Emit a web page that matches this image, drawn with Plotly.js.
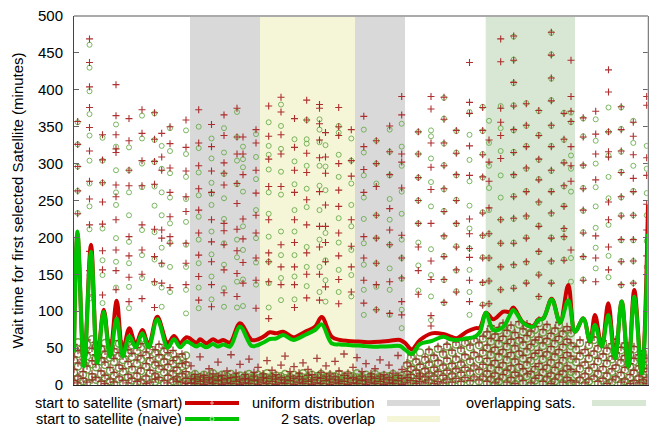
<!DOCTYPE html>
<html>
<head>
<meta charset="utf-8">
<script src="https://cdn.plot.ly/plotly-3.0.1.min.js"></script>
<style>
  html, body { margin: 0; padding: 0; background: #fff; }
  #chart { width: 649px; height: 426px; }
</style>
</head>
<body>
<div id="chart"></div>
<script>
// ---- shaded scenario bands (x positions along the track) ----
const bandNames  = ["uniform distribution", "2 sats. overlap", "overlapping sats."];
const bandStart  = [116, 186, 411.7];
const bandEnd    = [331, 281, 501];

// ---- smoothed mean wait time (minutes) ----
const lineX = [0,3.5,10,17,23.3,29.7,36,42.7,48.7,55.3,61.7,68.3,74.7,83.3,93.7,100,106,112.7,122.7,126,132.5,139,144,149.3,156,166,177.7,184.3,190,196,202,209.3,219.3,231,241,247.7,257.7,266,274.3,281,287.7,296,306,316,326,331,337.7,346,357.7,369.3,376,382.7,392.7,401,406,412,419.3,429.3,436,439.3,449.3,459.3,464.3,469.3,477.7,486,494.3,501,509.3,516,521,527.7,534.3,541,547.7,554.3,560.3,567.7,574];
const smartMean = [52,205,27,190,34,102,42,114,45,77,55,74.5,54,92.6,56.5,66.4,56.5,64.6,57.3,62,56.5,62,58.5,61,57.3,83.6,61,62,66,71.4,70,72.2,64.6,72.2,79,92,65.5,61,59.6,59,58.7,58,58.7,60,61,57,48.3,61,70,69,66,63.3,72.2,76.8,78,98,89,99.3,99.3,105,84.4,80,89,90.3,117,84.4,135.5,72.2,90.3,58.7,95,52,110.7,36,113,24.8,128.7,15.8,244];
const naiveMean = [45,208,25,180.6,30,99.3,38,90,39,66.4,51,70,51,89,50.6,62,51,58.7,52,55,51,55.5,52,55,52,79,52.8,54.2,58,62.3,63,67.8,61,67.8,74.5,82.2,56.5,55,54.2,53.5,53.3,52,52,52.5,52.8,48,42,55.5,59.6,65.5,62,61,63.3,65.5,72,98,74.5,79,95,101.6,84,79,88,90,116,84.4,115,72.2,90.3,58.7,81.3,52,94.9,36,113,24.8,119.6,15.8,205];

// ---- individual runs: sample columns along the track ----
const colX = [3.7,15.5,28.5,42,55,68,80.5,87.7,96,112,124.7,137.5,150,163,169,182,194.7,207,220.5,232.7,245.5,251.5,264.7,277.3,289.8,302.3,315.7,327.7,344.3,357,370,382.3,395.5,408.7,415,426.7,439.7,452.3,464.8,477.3,490,497,509.2,521.7,534.5,547.2,559.3,572.7];
const smartRuns = [
  [357,326,296,263,232],
  [469,437,404,376,349,317,276,252,217,181,155,122],
  [339,305,274,248,218,182,156,122],
  [407,365,339,320,315,271,255,224,183,155,129],
  [361,331,291,270,201,175,146,113],
  [373,341,304,270,217,183,150,117],
  [369,333,303,272,211,174,140,105],
  [341,309,291,210,199,165,138],
  [350,327,294,261,228,201,192,132],
  [359,322,290,255,235,192,165,136],
  [373,328,297,266,237,206,176,147,115],
  [353,323,290,261,224,194,167,136,106],
  [366,338,301,287,271,219,209,190,156,125],
  [375,336,313,273,246,211,182,151,120],
  [336,313,285,225,198,166,138],
  [346,328,291,260,230,206,172,142,104],
  [378,337,306,269,224,179,167,140,90],
  [390,370,339,313,269,190,160,136],
  [361,322,291,261,224,193,160,136,105],
  [386,359,314,288,251,217,179,150,118],
  [380,375,354,332,308,262,215,187,150,115],
  [342,309,287,244,215,193,167,133],
  [376,350,338,300,264,242,206,175,143,110],
  [346,304,283,224,188,160,126],
  [364,323,292,261,201,172,142,111],
  [331,300,269,230,199,165,136,102],
  [351,316,285,239,210,190,140,97],
  [391,366,313,302,267,203,172,145,113,95],
  [343,313,281,250,219,187,155,123],
  [391,374,328,295,265,219,168,143,94,80],
  [390,360,328,297,266,235,202,174,143,112],
  [345,314,285,250,219,187,156,126],
  [437,383,368,324,284,225,205,185,173,142,113],
  [376,345,312,282,233,203,172,139,108],
  [332,302,276,240,205,172,141,110],
  [469,438,375,356,338,307,224,192,160,129],
  [473,440,410,378,346,315,285,255,226,192,163,131],
  [381,352,323,294,262,229,199,167,138],
  [372,338,306,278,248,215,181,149,120],
  [478,447,416,385,352,323,291,262,233,199,168,138],
  [368,333,301,270,242,212,201,169],
  [440,391,371,357,323,297,276,183],
  [362,336,298,266,237,206,174,142],
  [371,340,313,278,202,172,140],
  [427,397,343,316,309,248,224,187,156],
  [377,346,317,288,255,229,197,167,136],
  [356,337,312,280,262,230,197,168,138],
  [391,379,308,284,245,210,175]
];
const naiveRuns = [
  [356,326,296,263,233],
  [461,430,398,367,338,304,273,242,211,149,117],
  [335,304,274,212,169,149,111],
  [353,323,291,261,244,199,167,132],
  [322,291,261,230,194,165,133,104],
  [365,334,300,268,210,176,145],
  [368,332,302,269,243,207,170,138],
  [324,293,261,230,186,163,132,106],
  [348,317,287,254,219,193,160,126],
  [345,313,282,252,221,190,160,129,97],
  [350,321,288,257,228,197,165,132,104],
  [334,307,274,259,244,208,177,147,116],
  [348,315,286,253,225,192,163,131,106],
  [370,336,304,272,197,173,140,105],
  [323,306,295,262,215,183,143,107],
  [340,309,279,237,199,166,136],
  [356,324,312,292,261,232,201,167,138,105],
  [380,351,320,289,258,208,176,145,115],
  [333,303,272,237,208,176,147,116],
  [359,333,327,297,266,241,187,160,134],
  [360,346,329,297,270,237,197,160,126],
  [325,296,264,206,169,142,113],
  [351,342,312,282,226,193,156,126],
  [334,304,273,244,215,183,149,120],
  [346,315,284,254,225,192,163,129,95],
  [331,300,273,230,199,165,133,102],
  [346,316,284,252,224,190,158,129,95],
  [354,323,297,262,232,197,172,144,102,77],
  [343,313,281,250,219,193,162,128],
  [345,337,307,275,242,184,149,120,88],
  [389,361,327,298,265,236,201,175,142,111],
  [344,315,284,251,218,188,155,127],
  [370,339,305,276,243,212,185,156,126,95],
  [377,344,313,281,234,202,173,138,109],
  [358,328,297,267,237,205,172,141,110],
  [378,348,317,284,254,224,192,160,129],
  [472,441,409,379,345,316,284,256,225,193,162,132],
  [382,351,324,293,263,228,200,166,139],
  [371,339,305,279,247,216,180,150,119],
  [477,448,415,386,351,324,290,263,232,200,167,139],
  [369,332,302,269,243,211,200,170],
  [369,356,311,293,262,172,140],
  [361,337,297,267,236,207,173,143],
  [360,331,300,268,242,213,186,158],
  [376,343,311,282,253,217,175,146],
  [376,347,316,289,254,230,196,168,135],
  [358,328,297,263,230,196,168,138],
  [324,293,260,230,195,160]
];

// ---- short waits (dense band near zero) ----
const lowX = [0,4,9,13,18,22,27,31,36,40,45,49,54,58,63,67,72,76,81,85,90,94,99,103,108,112,
  117,121,126,130,135,139,144,148,153,157,162,166,171,175,180,184,189,193,198,202,207,211,216,220,225,229,234,238,243,247,252,256,261,265,270,274,279,283,288,292,297,301,306,310,315,319,324,328,
  333,337,342,346,351,355,360,364,369,373,378,382,387,391,396,400,405,409,
  413,417,421,425,429,433,437,441,445,449,453,457,461,465,469,473,477,481,485,489,493,497,
  502,506,511,515,520,524,529,533,538,542,547,551,556,560,565,569,573];
const lowSmart = [
  [6,21,38,55],[12,30,47,3],[18,35,52,9],[4,26,44,61],[15,33,50,7],[10,28,41,58],[5,19,37,53],[13,31,46,2],[8,24,42,57],[17,36,49,4],
  [11,27,44,60],[6,22,39,54],[14,32,48,3],[9,25,43,59],[16,34,51,5],[7,23,40,56],[12,29,45,2],[4,20,37,52],[15,31,48,8],[10,26,41,55],
  [6,21,35,50],[13,28,44,3],[8,19,33,47],[11,24,38,5],[4,15,29,42],[9,18,31,2],
  [3,9,26],[2,8,14],[5,11,38],[1,7,13],[4,10,22],[2,8,15],[6,12,31],[1,7,13],[3,9,19],[2,10,41],
  [5,11,16],[1,7,28],[3,9,14],[2,8,35],[6,12,17],[1,7,24],[4,10,15],[2,9,33],[5,12,20],[1,8,14],
  [3,10,27],[2,7,39],[6,12,18],[1,9,25],[4,11,16],[2,8,30],[5,13,21],[1,7,14],[3,10,36],[2,9,17],
  [6,12,26],[1,8,15],[4,11,32],[2,7,19],[5,13,42],[1,9,16],[3,10,24],[2,8,37],[6,12,18],[1,7,29],
  [4,11,15],[2,9,22],[5,12,34],[1,8,14],[3,10,27],[2,7,16],[6,13,40],[1,9,21],
  [3,10,18,30],[6,14,25,41],[2,9,20,35],[5,15,28,12],[3,11,22,38],[7,16,31,48],[2,12,24,40],[5,18,33,52],[3,13,27,45],
  [8,20,36,55],[4,15,29,47],[9,22,38,58],[5,17,31,50],[10,24,41,60],[6,19,35,54],[11,26,44,63],[7,21,38,57],[12,28,47,66],
  [5,19,36,54,72],[11,27,45,63,80],[3,16,33,51,69],[8,24,42,60,78],[14,30,48,66,84],[4,20,38,56,74],[10,26,44,62,81],[2,17,35,53,71],
  [12,28,46,64,86],[6,22,40,58,76],[15,31,49,67,83],[3,18,37,55,73],[9,25,43,61,79],[13,29,47,65,88],[5,21,39,57,75],[11,27,45,63,82],
  [2,16,34,52,70],[8,24,42,60,77],[14,30,48,66,85],[4,19,37,55,73],[10,26,44,62,79],[6,21,39,57,74],
  [4,18,35,52],[10,26,43,61],[3,15,31,48],[8,23,40,58],[12,28,46,65],[5,19,36,53],[9,25,42,60],[2,16,33,50],[7,22,39,56],
  [11,27,44,62],[4,17,34,51],[8,24,40,57],[2,14,29,45],[6,20,36,52],[3,12,26,41],[7,18,31,46],[2,10,22,36]
];
const lowNaive = [
  [3,17,33,49],[9,25,42,58],[14,30,46,5],[2,21,39,55],[11,28,45,62],[7,24,36,52],[2,15,32,48],[10,27,41,57],[5,19,37,53],[13,31,45,1],
  [8,23,39,56],[3,18,34,50],[11,27,43,58],[6,21,38,54],[12,29,46,2],[4,19,35,51],[9,25,40,56],[2,16,32,47],[12,27,43,4],[7,22,37,51],
  [3,17,31,45],[10,24,39,55],[5,15,29,42],[8,20,34,2],[2,12,25,38],[6,14,27,40],
  [2,7,12],[4,10,15],[1,6,11],[3,9,14],[2,7,12],[5,10,16],[1,6,11],[3,8,14],[2,7,12],[4,9,15],
  [1,6,11],[3,8,13],[2,7,12],[4,10,15],[1,6,11],[3,9,14],[2,7,12],[5,10,16],[1,6,11],[3,8,13],
  [2,7,12],[4,9,15],[1,6,11],[3,8,14],[2,7,12],[4,10,16],[1,6,11],[3,9,14],[2,7,12],[5,10,15],
  [1,6,11],[3,8,13],[2,7,12],[4,9,15],[1,6,11],[3,8,14],[2,7,12],[4,10,16],[1,6,11],[3,9,14],
  [2,7,12],[5,10,15],[1,6,11],[3,8,13],[2,7,12],[4,9,15],[1,6,11],[3,8,13],
  [2,8,15,27],[4,12,22,37],[1,7,17,31],[3,13,25,44],[2,9,19,34],[5,14,28,45],[1,10,21,37],[4,16,30,49],[2,11,24,42],
  [6,18,33,52],[3,13,26,44],[7,20,35,55],[3,15,28,47],[8,22,38,57],[4,17,32,51],[9,24,41,60],[5,19,35,54],[10,26,44,63],
  [2,15,32,50,68],[8,23,41,59,77],[1,13,29,47,65],[5,20,38,56,74],[10,26,44,62,80],[2,17,34,52,70],[7,22,40,58,77],[1,14,31,49,67],
  [9,24,42,60,82],[3,18,36,54,72],[12,27,45,63,79],[1,15,33,51,69],[6,21,39,57,75],[10,25,43,61,84],[2,17,35,53,71],[8,23,41,59,78],
  [1,13,30,48,66],[5,20,38,56,73],[11,26,44,62,81],[2,16,33,51,69],[7,22,40,58,75],[3,18,35,53,70],
  [2,14,31,48],[7,22,39,57],[1,12,27,44],[5,19,36,54],[9,24,42,61],[2,15,32,49],[6,21,38,56],[1,12,29,46],[4,18,35,52],
  [8,23,40,58],[2,13,30,47],[5,20,36,53],[1,10,25,41],[3,16,32,48],[1,9,22,37],[4,14,27,42],[1,7,18,32]
];

// flatten column-wise samples into x/y point lists
function spread(xs, groups) {
  const x = [], y = [];
  groups.forEach((vals, i) => vals.forEach(v => { x.push(xs[i]); y.push(v); }));
  return { x, y };
}
const smartHi = spread(colX, smartRuns), smartLo = spread(lowX, lowSmart);
const naiveHi = spread(colX, naiveRuns), naiveLo = spread(lowX, lowNaive);

const RED = "rgb(205,0,0)";
const GREEN = "rgb(0,195,0)";
const FONT = "Liberation Sans, Arial, Helvetica, sans-serif";

const crossStyle = (size, w, c) => ({ symbol: "cross-thin-open", size, color: c, line: { width: w, color: c } });
const ringStyle = (size, w, c) => ({ symbol: "circle-open", size, color: c, line: { width: w, color: c } });

const traces = [
  // dense band of short waits
  { x: naiveLo.x, y: naiveLo.y, type: "scatter", mode: "markers", hoverinfo: "skip",
    marker: ringStyle(7, 1.5, "rgba(105,150,55,0.9)") },
  { x: smartLo.x, y: smartLo.y, type: "scatter", mode: "markers", hoverinfo: "skip",
    marker: crossStyle(5.5, 1.3, "rgba(150,35,30,0.85)") },
  // individual runs
  { x: naiveHi.x, y: naiveHi.y, type: "scatter", mode: "markers", hoverinfo: "skip",
    marker: ringStyle(5, 1, "rgba(100,170,70,0.85)") },
  { x: smartHi.x, y: smartHi.y, type: "scatter", mode: "markers", hoverinfo: "skip",
    marker: crossStyle(5, 1.1, "rgba(165,25,25,0.9)") },
  // smoothed means
  { x: lineX, y: smartMean, type: "scatter", mode: "lines", hoverinfo: "skip",
    line: { color: RED, width: 4, shape: "spline", smoothing: 1 } },
  { x: lineX, y: naiveMean, type: "scatter", mode: "lines", hoverinfo: "skip",
    line: { color: GREEN, width: 4, shape: "spline", smoothing: 1 } }
];

// plot frame in pixels: left 74, right 648, top 16, bottom 385
const L = 74, R = 648, T = 16, B = 385;
const px = v => (v - L) / (R - L);
const py = v => (B - v) / (B - T);

const bandColors = ["rgb(217,217,217)", "rgb(245,245,215)", "rgb(216,230,212)"];
const shapes = bandNames.map((n, i) => ({
  type: "rect", xref: "x", yref: "paper", layer: "below",
  x0: bandStart[i], x1: bandEnd[i], y0: 0, y1: 1,
  fillcolor: bandColors[i], line: { width: 0 }
}));

// frame top and right edges
shapes.push({ type: "line", xref: "paper", yref: "paper", x0: 0, x1: 1, y0: 1, y1: 1, line: { color: "#aaa", width: 2 } });
shapes.push({ type: "line", xref: "paper", yref: "paper", x0: 1, x1: 1, y0: 0, y1: 1, line: { color: "#bbb", width: 1 } });

// legend keys
const ROW1 = 403, ROW2 = 419;
shapes.push({ type: "line", xref: "paper", yref: "paper", x0: px(185), x1: px(239), y0: py(ROW1), y1: py(ROW1), line: { color: RED, width: 4 } });
shapes.push({ type: "line", xref: "paper", yref: "paper", x0: px(185), x1: px(239), y0: py(ROW2), y1: py(ROW2), line: { color: GREEN, width: 4 } });
shapes.push({ type: "line", xref: "paper", yref: "paper", x0: px(210), x1: px(214), y0: py(ROW1), y1: py(ROW1), line: { color: "rgb(240,170,170)", width: 1 } });
shapes.push({ type: "line", xref: "paper", yref: "paper", x0: px(212), x1: px(212), y0: py(ROW1 - 2), y1: py(ROW1 + 2), line: { color: "rgb(240,170,170)", width: 1 } });
shapes.push({ type: "circle", xref: "paper", yref: "paper", x0: px(210), x1: px(214), y0: py(ROW2 - 2), y1: py(ROW2 + 2), line: { color: "rgb(170,230,170)", width: 1 } });
shapes.push({ type: "rect", xref: "paper", yref: "paper", x0: px(387), x1: px(440), y0: py(ROW1 + 3), y1: py(ROW1 - 3), fillcolor: bandColors[0], line: { width: 0 } });
shapes.push({ type: "rect", xref: "paper", yref: "paper", x0: px(387), x1: px(440), y0: py(ROW2 + 3), y1: py(ROW2 - 3), fillcolor: bandColors[1], line: { width: 0 } });
shapes.push({ type: "rect", xref: "paper", yref: "paper", x0: px(592), x1: px(646), y0: py(ROW1 + 3), y1: py(ROW1 - 3), fillcolor: bandColors[2], line: { width: 0 } });

const legendText = (text, x, y, anchor) => ({
  text, x: px(x), y: py(y), xref: "paper", yref: "paper",
  xanchor: anchor, yanchor: "middle", showarrow: false, borderpad: 0,
  font: { family: FONT, size: 14.5, color: "#000" }
});
const annotations = [
  legendText("start to satellite (smart)", 183, ROW1, "right"),
  legendText("start to satellite (naive)", 183, ROW2, "right"),
  legendText(bandNames[0], 376, ROW1, "right"),
  legendText(bandNames[1], 376, ROW2, "right"),
  legendText(bandNames[2], 465, ROW1, "left")
];

const layout = {
  width: 649, height: 426,
  margin: { l: L, r: 649 - R, t: T, b: 426 - B, pad: 0 },
  paper_bgcolor: "#fff", plot_bgcolor: "#fff",
  showlegend: false,
  font: { family: FONT, size: 15, color: "#000" },
  xaxis: {
    range: [0, 574], showticklabels: false, ticks: "", showgrid: false, zeroline: false,
    showline: true, linecolor: "#222", linewidth: 1
  },
  yaxis: {
    range: [0, 500], dtick: 50, ticks: "inside", ticklen: 5, tickcolor: "#666",
    showgrid: false, zeroline: false, showline: true, linecolor: "#444", linewidth: 1,
    mirror: "ticks", ticklabelstandoff: 7,
    tickfont: { family: FONT, size: 15, color: "#000" },
    title: { text: "Wait time for first selected Satellite (minutes)", standoff: 10,
             font: { family: FONT, size: 15, color: "#000" } }
  },
  shapes, annotations
};

Plotly.newPlot("chart", traces, layout, { staticPlot: true, displayModeBar: false });
</script>
</body>
</html>
